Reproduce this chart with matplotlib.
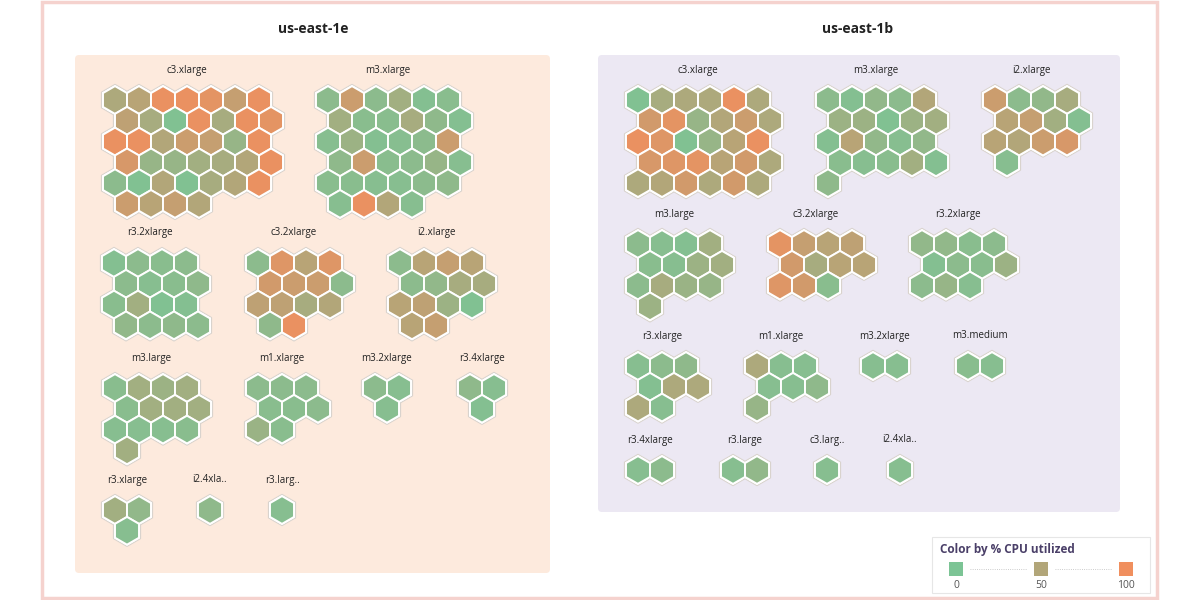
import numpy as np
import matplotlib
matplotlib.use("Agg")
import matplotlib.pyplot as plt
from matplotlib.patches import RegularPolygon, FancyBboxPatch, Rectangle
from matplotlib.colors import LinearSegmentedColormap

plt.rcParams['font.family'] = ['Open Sans', 'DejaVu Sans']

# ---- data: % CPU per instance, grouped in rows as drawn ----
zones = ['us-east-1e', 'us-east-1b']

east1e_names = ['c3.xlarge', 'm3.xlarge', 'r3.2xlarge', 'c3.2xlarge', 'i2.xlarge',
                'm3.large', 'm1.xlarge', 'm3.2xlarge', 'r3.4xlarge',
                'r3.xlarge', 'i2.4xla..', 'r3.larg..']
east1e_cpu = [
    [[45, 55, 95, 95, 90, 65, 95], [60, 40, 5, 95, 40, 95, 90], [95, 95, 50, 70, 65, 25, 95],
     [80, 25, 25, 35, 40, 50, 95], [15, 5, 50, 5, 40, 50, 95], [70, 55, 65, 50]],
    [[15, 70, 15, 35, 8, 12], [35, 12, 12, 40, 18, 8], [10, 30, 8, 10, 15, 70],
     [18, 70, 12, 15, 25, 10], [12, 12, 10, 10, 15, 18], [10, 95, 50, 10]],
    [[8, 15, 12, 15], [15, 10, 12, 18], [12, 35, 5, 8], [20, 15, 18, 15]],
    [[15, 85, 55, 85], [75, 70, 70, 15], [60, 60, 40, 50], [18, 95]],
    [[15, 55, 65, 55], [15, 20, 40, 40], [55, 60, 30, 5], [55, 65]],
    [[12, 35, 30, 35], [12, 35, 35, 35], [10, 10, 10, 12], [35]],
    [[15, 15, 15], [12, 12, 15], [28, 12]],
    [[15, 10], [10]],
    [[18, 10], [8]],
    [[35, 20], [10]],
    [[18]],
    [[10]],
]

east1b_names = ['c3.xlarge', 'm3.xlarge', 'i2.xlarge',
                'm3.large', 'c3.2xlarge', 'r3.2xlarge',
                'r3.xlarge', 'm1.xlarge', 'm3.2xlarge', 'm3.medium',
                'r3.4xlarge', 'r3.large', 'c3.larg..', 'i2.4xla..']
east1b_cpu = [
    [[5, 40, 45, 45, 95, 45], [75, 90, 25, 50, 70, 45], [95, 85, 5, 25, 55, 95],
     [80, 85, 90, 55, 75, 45], [45, 50, 75, 45, 75, 45]],
    [[15, 8, 20, 15, 50], [30, 30, 5, 30, 35], [8, 55, 20, 10, 20], [12, 10, 12, 35, 8], [18]],
    [[70, 15, 20, 40], [55, 65, 35, 8], [55, 50, 70, 80], [10]],
    [[15, 10, 8, 35], [12, 10, 30, 35], [15, 40, 28, 25], [30]],
    [[90, 65, 55, 60], [75, 40, 55, 55], [85, 75, 12]],
    [[20, 20, 12, 15], [8, 15, 12, 30], [15, 25, 10]],
    [[10, 15, 18], [8, 45, 45], [45, 10]],
    [[45, 10, 10], [10, 10, 18], [25]],
    [[10, 10]],
    [[12, 10]],
    [[10, 15]],
    [[10, 20]],
    [[10]],
    [[10]],
]

legend_ticks = [0, 50, 100]

# ---- layout (pixel coords, first hex centre of each group) ----
east1e_pos = [(115, 100), (328, 100), (114, 263), (258, 263), (400, 263),
              (115, 388), (258, 388), (375, 388), (470, 388),
              (115, 510), (210, 510), (282, 510)]
east1b_pos = [(638, 100), (828, 100), (995, 100),
              (638, 244), (780, 244), (922, 244),
              (638, 366), (757, 366), (873, 366), (968, 366),
              (638, 470), (733, 470), (827, 470), (900, 470)]

W = 24.0
R = W / np.sqrt(3)
DY = W * np.sqrt(3) / 2

cmap = LinearSegmentedColormap.from_list('cpu', ['#7cc495', '#b2a679', '#f08f5e'])

fig = plt.figure(figsize=(12, 6), dpi=100)
ax = fig.add_axes([0, 0, 1, 1])
ax.set_xlim(0, 1200)
ax.set_ylim(600, 0)
ax.axis('off')

# outer frame and zone panels
ax.add_patch(Rectangle((42, 2), 1115, 596, fill=False, edgecolor='#f5d2ce', lw=2.5))
ax.add_patch(FancyBboxPatch((75, 55), 475, 518, boxstyle='round,pad=0,rounding_size=4',
                            facecolor='#fdeadd', edgecolor='none'))
ax.add_patch(FancyBboxPatch((598, 55), 522, 457, boxstyle='round,pad=0,rounding_size=4',
                            facecolor='#ece8f3', edgecolor='none'))
ax.text(313, 29, zones[0], ha='center', va='center', fontsize=10, fontweight='bold', color='#222222')
ax.text(858, 29, zones[1], ha='center', va='center', fontsize=10, fontweight='bold', color='#222222')


def draw_group(name, rows, x0, y0):
    centers = []
    for r, row in enumerate(rows):
        for c, v in enumerate(row):
            centers.append((x0 + c * W + (r % 2) * W / 2, y0 + r * DY, v))
    for x, y, v in centers:
        ax.add_patch(RegularPolygon((x, y), 6, radius=R + 1.8, orientation=0,
                                    facecolor='white', edgecolor='#d9d3cd', lw=0.8))
    for x, y, v in centers:
        ax.add_patch(RegularPolygon((x, y), 6, radius=R, orientation=0,
                                    facecolor=cmap(v / 100), edgecolor='white', lw=1.4))
    ax.text(x0 + (len(rows[0]) - 1) * W / 2, y0 - 30, name, ha='center', va='center',
            fontsize=7, color='#222222')


for name, rows, (x0, y0) in zip(east1e_names, east1e_cpu, east1e_pos):
    draw_group(name, rows, x0, y0)
for name, rows, (x0, y0) in zip(east1b_names, east1b_cpu, east1b_pos):
    draw_group(name, rows, x0, y0)

# legend
ax.add_patch(Rectangle((932, 537), 218, 56, facecolor='white', edgecolor='#e6e6e6', lw=0.8))
ax.text(940, 550, 'Color by % CPU utilized', ha='left', va='center', fontsize=8.5,
        fontweight='bold', color='#4a3f68')
lx = [956, 1041, 1126]
for x, t in zip(lx, legend_ticks):
    ax.add_patch(Rectangle((x - 7, 562), 14, 14, facecolor=cmap(t / 100), edgecolor='none'))
    ax.text(x, 585, str(t), ha='center', va='center', fontsize=7.5, color='#555555')
for a, b in zip(lx[:-1], lx[1:]):
    ax.plot([a + 14, b - 14], [569, 569], ls=':', lw=0.6, color='#bbbbbb')

fig.savefig('out.png', dpi=100)
